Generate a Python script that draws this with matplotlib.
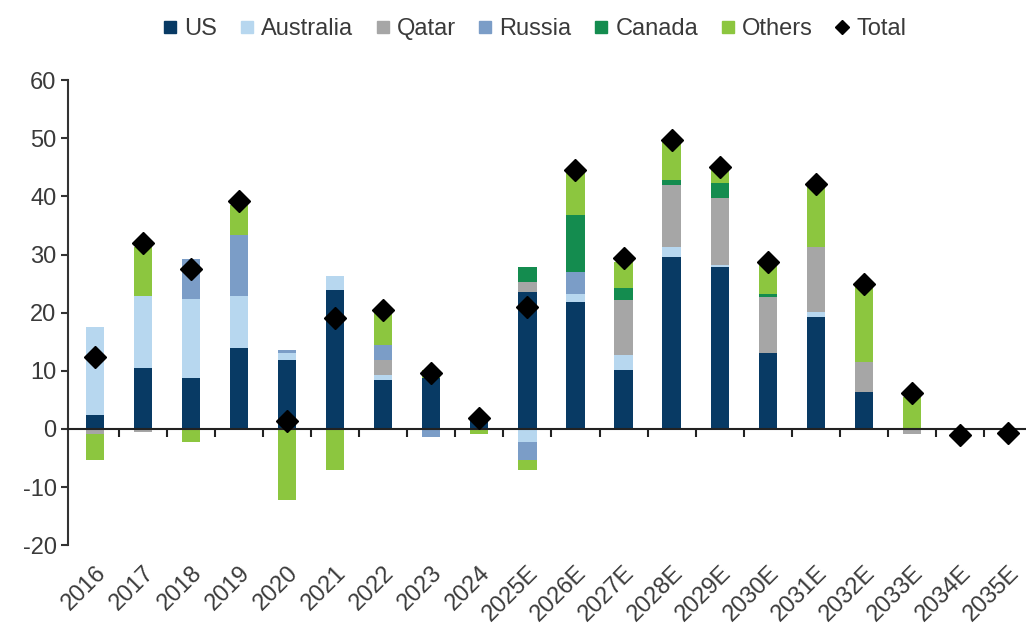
import numpy as np
import matplotlib
matplotlib.use('Agg')
import matplotlib.pyplot as plt
from matplotlib.lines import Line2D

years = ['2016', '2017', '2018', '2019', '2020', '2021', '2022', '2023', '2024',
         '2025E', '2026E', '2027E', '2028E', '2029E', '2030E', '2031E', '2032E',
         '2033E', '2034E', '2035E']

us = [2.4, 10.5, 8.8, 13.9, 11.8, 23.9, 8.5, 8.8, 1.6, 23.5, 21.8, 10.1, 29.6, 27.8, 13.1, 19.2, 6.4, 0, 0, 0]
australia = [15.1, 12.4, 13.5, 8.9, 1.2, 2.4, 0.8, 0, 0, -2.3, 1.5, 2.6, 1.7, 0.4, 0, 0.9, 0, 0, 0, 0]
qatar = [-0.8, -0.6, 0, 0, 0, 0, 2.6, 0, 0.3, 1.8, 0, 9.5, 10.6, 11.5, 9.6, 11.2, 5.1, -0.9, 0, 0]
russia = [0, 0, 7.0, 10.5, 0.6, 0, 2.5, -1.4, 0, -3.0, 3.7, 0, 0, 0, 0, 0, 0, 0, 0, 0]
canada = [0, 0, 0, 0, 0, 0, 0, 0, 0, 2.6, 9.8, 2.0, 0.9, 2.6, 0.5, 0, 0, 0, 0, 0]
others = [-4.5, 8.4, -2.3, 5.2, -12.2, -7.0, 5.5, 1.3, -0.9, -1.7, 7.2, 4.5, 6.9, 2.5, 5.5, 10.6, 12.9, 5.5, 0, 0]
total = [12.4, 32.0, 27.5, 39.2, 1.3, 19.1, 20.4, 9.6, 1.9, 21.0, 44.5, 29.4, 49.7, 45.0, 28.7, 42.2, 24.9, 6.2, -1.0, -0.7]

series = [('US', us, '#083a64'),
          ('Australia', australia, '#b7d7ef'),
          ('Qatar', qatar, '#a6a6a6'),
          ('Russia', russia, '#7b9dc7'),
          ('Canada', canada, '#148c4f'),
          ('Others', others, '#8cc63f')]

txt = '#3a3a3a'
plt.rcParams['font.family'] = ['Liberation Sans', 'DejaVu Sans']
plt.rcParams['axes.unicode_minus'] = False

fig = plt.figure(figsize=(10.26, 6.26), dpi=100)
ax = fig.add_axes([0.066, 0.129, 0.934, 0.743])

x = np.arange(len(years))
pos_base = np.zeros(len(years))
neg_base = np.zeros(len(years))
handles = []
for name, vals, col in series:
    v = np.array(vals, dtype=float)
    p = np.where(v > 0, v, 0)
    n = np.where(v < 0, v, 0)
    ax.bar(x, p, 0.38, bottom=pos_base, color=col, zorder=2)
    ax.bar(x, n, 0.38, bottom=neg_base, color=col, zorder=2)
    pos_base += p
    neg_base += n
    handles.append(Line2D([], [], ls='none', marker='s', ms=8, color=col, label=name))

ax.plot(x, total, ls='none', marker='D', ms=11, color='black', zorder=4)
handles.append(Line2D([], [], ls='none', marker='D', ms=7, color='black', label='Total'))

ax.set_ylim(-20, 60)
ax.set_xlim(-0.56, 19.37)
ax.set_yticks(range(-20, 61, 10))
for s in ['top', 'right']:
    ax.spines[s].set_visible(False)
ax.spines['left'].set_color('#333333')
ax.spines['left'].set_linewidth(1.5)
ax.spines['bottom'].set_position(('data', 0))
ax.spines['bottom'].set_color('#222222')
ax.spines['bottom'].set_linewidth(1.5)
ax.spines['bottom'].set_zorder(3)
ax.tick_params(axis='y', direction='out', length=5, width=1.5, color='#333333',
               labelsize=17, labelcolor=txt, pad=3)

# tick marks between categories on the zero line, labels at the bottom
ax.set_xticks(x)
ax.set_xticks(x[:-1] + 0.5, minor=True)
ax.tick_params(axis='x', which='major', length=0, labelbottom=False)
ax.tick_params(axis='x', which='minor', direction='out', length=6, width=1.5, color='#222222')

sec = ax.secondary_xaxis(location=0.0)
sec.set_xticks(x)
sec.set_xticklabels(years, rotation=45, ha='right', rotation_mode='anchor')
sec.tick_params(length=0, labelsize=17, labelcolor=txt, pad=12)
sec.spines['bottom'].set_visible(False)

fig.legend(handles=handles, loc='upper center', bbox_to_anchor=(0.52, 1.005), ncol=7,
           frameon=False, fontsize=17, labelcolor=txt, handlelength=0.8,
           handletextpad=0.2, columnspacing=0.85)

fig.savefig('out.png', dpi=100)
